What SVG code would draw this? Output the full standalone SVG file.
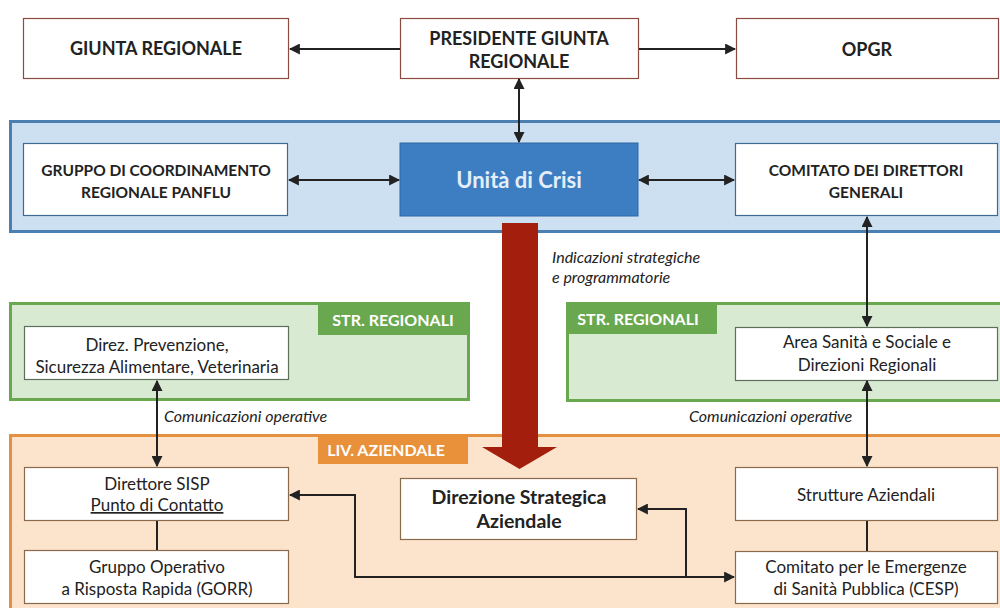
<svg xmlns="http://www.w3.org/2000/svg" width="1000" height="608" viewBox="0 0 1000 608">
<defs>
<style>
.t{font-family:Lato,"Open Sans","Liberation Sans",sans-serif;fill:#222;text-anchor:middle}
.b{font-weight:bold}
.n{font-size:17px}
.it{font-family:Lato,"Open Sans","Liberation Sans",sans-serif;font-style:italic;font-size:16px;fill:#222}
.tab{font-family:Lato,"Open Sans","Liberation Sans",sans-serif;font-weight:bold;font-size:16px;fill:#fff}
.top{fill:#fff;stroke:#8B4B40;stroke-width:1.2}
.bl{fill:#fff;stroke:#3E6A94;stroke-width:1.2}
.gr{fill:#fff;stroke:#5E6E5A;stroke-width:1.2}
.or{fill:#fff;stroke:#8A6A4A;stroke-width:1.2}
.c{fill:none;stroke:#222;stroke-width:2}
</style>
<marker id="ah" viewBox="0 0 10 10" refX="9" refY="5" markerWidth="5.5" markerHeight="5.5" orient="auto-start-reverse" markerUnits="strokeWidth">
<path d="M0,0 L10,5 L0,10 z" fill="#222"/>
</marker>
</defs>
<rect width="1000" height="608" fill="#fff"/>

<g id="band-blue"><rect x="10.5" y="121.5" width="1000" height="110" fill="#CCE0F2" stroke="#4A7FB0" stroke-width="3"/></g>
<g id="band-green-left">
<rect x="10.5" y="303.5" width="458" height="96" fill="#D8EBD2" stroke="#6AA84F" stroke-width="3"/>
<rect x="318" y="303" width="151" height="32" fill="#6AA84F"/>
<text class="tab" x="393" y="326" text-anchor="middle">STR. REGIONALI</text>
</g>
<g id="band-green-right">
<rect x="567.5" y="303.5" width="440" height="97" fill="#D8EBD2" stroke="#6AA84F" stroke-width="3"/>
<rect x="567" y="303" width="150" height="31" fill="#6AA84F"/>
<text class="tab" x="638" y="325" text-anchor="middle">STR. REGIONALI</text>
</g>
<g id="band-orange">
<rect x="10.5" y="435.5" width="1000" height="200" fill="#FCE4CC" stroke="#E39140" stroke-width="3"/>
<rect x="318" y="435" width="150" height="29" fill="#E8913A"/>
<text class="tab" x="386" y="456" text-anchor="middle" font-size="15.5">LIV. AZIENDALE</text>
</g>

<g id="red-arrow"><path d="M502,223 H538 V447 H557 L519.5,469 L482,447 H502 Z" fill="#A31E0C"/></g>

<g id="giunta"><rect class="top" x="23.5" y="18.5" width="265" height="60"/><text class="t b" x="156" y="55" font-size="18">GIUNTA REGIONALE</text></g>
<g id="presidente"><rect class="top" x="400.5" y="18.5" width="238" height="60"/><text class="t b" x="519" y="45" font-size="18">PRESIDENTE GIUNTA</text><text class="t b" x="519" y="68" font-size="18">REGIONALE</text></g>
<g id="opgr"><rect class="top" x="736.5" y="18.5" width="262" height="60"/><text class="t b" x="867" y="56" font-size="18">OPGR</text></g>

<g id="gruppo"><rect class="bl" x="23.5" y="143.5" width="264" height="72"/><text class="t b" x="156" y="176" font-size="15.5">GRUPPO DI COORDINAMENTO</text><text class="t b" x="156" y="198" font-size="15.5">REGIONALE PANFLU</text></g>
<g id="unita"><rect x="400" y="143" width="238" height="73" fill="#3D7EC3" stroke="#2E67A3" stroke-width="1"/><text class="t b" x="519" y="188" font-size="22" style="fill:#E4EEF8">Unità di Crisi</text></g>
<g id="comitato-dg"><rect class="bl" x="735.5" y="143.5" width="262" height="72"/><text class="t b" x="866" y="176" font-size="15.5">COMITATO DEI DIRETTORI</text><text class="t b" x="866" y="198" font-size="15.5">GENERALI</text></g>

<g id="direz-prev"><rect class="gr" x="24.5" y="326.5" width="264" height="53"/><text class="t n" x="157" y="351">Direz. Prevenzione,</text><text class="t n" x="157" y="373">Sicurezza Alimentare, Veterinaria</text></g>
<g id="area-sanita"><rect class="gr" x="735.5" y="327.5" width="262" height="53"/><text class="t n" x="867" y="348">Area Sanità e Sociale e</text><text class="t n" x="867" y="371">Direzioni Regionali</text></g>

<g id="direttore-sisp"><rect class="or" x="24.5" y="467.5" width="264" height="53"/><text class="t n" x="157" y="490">Direttore SISP</text><text class="t n" x="157" y="511" text-decoration="underline">Punto di Contatto</text></g>
<g id="gorr"><rect class="or" x="24.5" y="550.5" width="264" height="53"/><text class="t n" x="157" y="573">Gruppo Operativo</text><text class="t n" x="157" y="595">a Risposta Rapida (GORR)</text></g>
<g id="direzione-strategica"><rect class="or" x="400.5" y="478.5" width="236" height="61"/><text class="t b" x="519" y="504" font-size="19.5">Direzione Strategica</text><text class="t b" x="519" y="528" font-size="19.5">Aziendale</text></g>
<g id="strutture"><rect class="or" x="735.5" y="467.5" width="262" height="53"/><text class="t n" x="866" y="501">Strutture Aziendali</text></g>
<g id="cesp"><rect class="or" x="735.5" y="551.5" width="262" height="52"/><text class="t n" x="866" y="573">Comitato per le Emergenze</text><text class="t n" x="866" y="595">di Sanità Pubblica (CESP)</text></g>

<g id="labels">
<text class="it" x="552" y="263">Indicazioni strategiche</text>
<text class="it" x="552" y="283">e programmatorie</text>
<text class="it" x="164" y="422">Comunicazioni operative</text>
<text class="it" x="689" y="422">Comunicazioni operative</text>
</g>

<g id="connectors">
<path class="c" d="M400,49 H290" marker-end="url(#ah)"/>
<path class="c" d="M639,49 H735" marker-end="url(#ah)"/>
<path class="c" d="M519,79 V142" marker-start="url(#ah)" marker-end="url(#ah)"/>
<path class="c" d="M289,180 H399" marker-start="url(#ah)" marker-end="url(#ah)"/>
<path class="c" d="M639,180 H734" marker-start="url(#ah)" marker-end="url(#ah)"/>
<path class="c" d="M867,217 V326" marker-start="url(#ah)" marker-end="url(#ah)"/>
<path class="c" d="M157,381 V466" marker-start="url(#ah)" marker-end="url(#ah)"/>
<path class="c" d="M867,381 V466" marker-start="url(#ah)" marker-end="url(#ah)"/>
<path class="c" d="M157,521 V550"/>
<path class="c" d="M867,521 V551"/>
<path class="c" d="M290,495 H355 V577 H734" marker-start="url(#ah)" marker-end="url(#ah)"/>
<path class="c" d="M686,577 V509 H638" marker-end="url(#ah)"/>
</g>
</svg>
